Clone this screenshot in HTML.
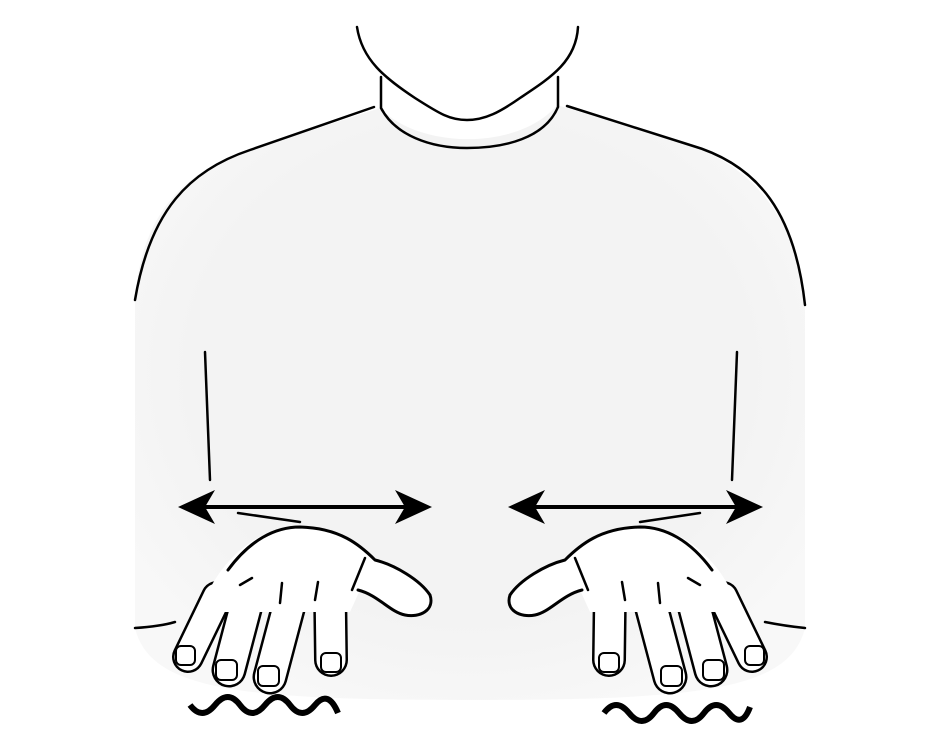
<!DOCTYPE html>
<html><head><meta charset="utf-8"><style>
html,body{margin:0;padding:0;background:#fff;}
svg{display:block;}
</style></head><body>
<svg width="937" height="750" viewBox="0 0 937 750" xmlns="http://www.w3.org/2000/svg">
<defs>
<radialGradient id="g" cx="50%" cy="45%" r="60%">
<stop offset="0.7" stop-color="#f3f3f3"/><stop offset="1" stop-color="#f8f8f8"/>
</radialGradient>
<g id="hand" stroke="#000" stroke-linecap="round" stroke-linejoin="round">
<g>
<line x1="217" y1="597" x2="188" y2="657" stroke-width="32"/>
<line x1="217" y1="597" x2="188" y2="657" stroke="#fff" stroke-width="27"/>
<line x1="250" y1="590" x2="229" y2="670" stroke-width="35"/>
<line x1="250" y1="590" x2="229" y2="670" stroke="#fff" stroke-width="30"/>
<line x1="293" y1="590" x2="270" y2="677" stroke-width="35"/>
<line x1="293" y1="590" x2="270" y2="677" stroke="#fff" stroke-width="30"/>
<line x1="330" y1="585" x2="331" y2="660" stroke-width="34"/>
<line x1="330" y1="585" x2="331" y2="660" stroke="#fff" stroke-width="29"/>
</g>
<path d="M205,600 C220,560 260,525 300,527 C340,528 360,545 375,560 C395,565 420,580 430,595 C435,610 420,618 405,615 C390,612 375,595 360,590 L350,612 L215,612 Z" fill="#fff" stroke="none"/>
<path d="M228,570 C250,540 275,527 300,527 C340,528 360,545 375,560 C395,565 420,580 430,595 C435,610 420,618 405,615 C390,612 378,595 358,590" fill="none" stroke-width="3"/>
<path d="M240,585 L252,578 M282,583 L280,603 M318,582 L315,600 M365,558 L352,590" fill="none" stroke-width="2.5"/>
<g fill="#fff" stroke-width="2">
<rect x="176" y="646" width="19" height="19" rx="5"/>
<rect x="216" y="660" width="21" height="20" rx="5"/>
<rect x="258" y="666" width="21" height="20" rx="5"/>
<rect x="321" y="653" width="20" height="19" rx="5"/>
</g>
</g>
</defs>
<path d="M135,300 C140,230 170,175 250,150 L380,108 C420,150 520,150 557,105 L690,145 C760,170 800,230 805,305 L805,628 C790,690 700,700 470,700 C240,700 150,690 135,628 Z" fill="url(#g)"/>
<g fill="none" stroke="#000" stroke-width="2.5" stroke-linecap="round">
<path d="M357,27 C362,60 385,78 415,98 C440,114 450,120 467,120 C485,120 500,112 520,98 C550,78 576,62 578,27"/>
<path d="M381,77 L381,108 M558,77 L558,107 M381,108 C395,135 430,148 467,148 C505,148 545,138 558,107"/>
<path d="M374,107 L250,150 C190,170 150,210 135,300"/>
<path d="M567,106 L690,145 C760,165 795,215 805,305"/>
<path d="M205,352 L210,480 M737,352 L732,480 M135,628 C150,627 165,625 175,622 M765,622 C780,625 795,627 805,628"/>
<path d="M238,513 L300,522 M640,522 L700,513"/>
</g>
<g>
<line x1="195" y1="507" x2="415" y2="507" stroke="#000" stroke-width="4"/>
<polygon points="178,507 215,490 205,507 215,524" fill="#000"/>
<polygon points="432,507 395,490 405,507 395,524" fill="#000"/>
</g>
<g>
<line x1="525" y1="507" x2="745" y2="507" stroke="#000" stroke-width="4"/>
<polygon points="508,507 545,490 535,507 545,524" fill="#000"/>
<polygon points="763,507 726,490 736,507 726,524" fill="#000"/>
</g>
<use href="#hand"/>
<use href="#hand" transform="translate(940,0) scale(-1,1)"/>
<g fill="none" stroke="#000" stroke-width="6">
<path d="M190,705 q12,16 25,0 t25,0 t25,0 t25,0 t25,0 t23,8"/>
<path d="M604,713 q12,-16 25,0 t25,0 t25,0 t25,0 t25,0 t21,-6"/>
</g>
</svg>
</body></html>
